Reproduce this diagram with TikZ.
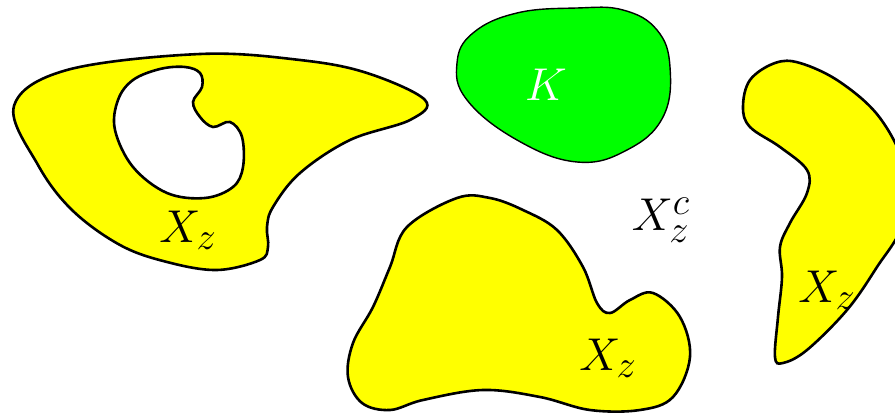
\documentclass[tikz,border=0pt]{standalone}
\usepackage{amsmath}
\usepackage{graphicx}
\usepackage{tikz}
\definecolor{setyellow}{RGB}{255,255,0}
\definecolor{setgreen}{RGB}{0,255,0}
\newcommand{\biglbl}[1]{\scalebox{1.85}{\Huge #1}}

\begin{document}
\begin{tikzpicture}[x=1pt, y=-1pt,
    region/.style={draw=black, line width=2.6pt, fill=setyellow},
    compact/.style={draw=black, line width=1.4pt, fill=setgreen},
    lbl/.style={inner sep=0pt}]
  % Frame
  \useasboundingbox (0,0) rectangle (895,414);
  \clip (0,0) rectangle (895,414);
  % Left piece with a hole
  \path[region, even odd rule]
    plot[smooth cycle, tension=0.6] coordinates {(14,106) (67,70) (200,54) (300,60) (367,73) (425,100)
      (410,120) (350,140) (300,173) (273,207) (267,227) (268,247) (260,260) (217,270) (167,262)
      (120,245) (72,210) (38,165)}
    plot[smooth cycle, tension=0.6] coordinates {(185,67) (200,73) (202,87) (193,102) (200,117) (213,127)
      (230,122) (242,137) (243,167) (233,187) (205,198) (167,193) (133,167) (115,130) (118,100) (133,80) (160,69)};
  % Bottom piece
  \path[region]
    plot[smooth cycle, tension=0.6] coordinates {(457,198) (407,227) (390,267) (373,307) (353,343) (348,377)
      (362,403) (390,410) (423,400) (483,390) (540,397) (590,410) (640,410) (673,397) (690,357) (680,317)
      (653,293) (630,300) (610,313) (597,303) (583,267) (557,230) (523,210) (490,198)};
  % Right piece
  \path[region]
    plot[smooth cycle, tension=0.6] coordinates {(775,63) (750,80) (743,107) (750,127) (780,147) (807,170)
      (807,193) (790,223) (780,247) (782,277) (778,317) (775,357) (783,363) (807,350) (847,310) (877,267)
      (902,225) (905,170) (880,118) (840,82) (800,63)};
  % Compact set
  \path[compact]
    plot[smooth cycle, tension=0.7] coordinates {(577,8) (517,13) (473,33) (457,63) (467,100) (517,140)
      (577,162) (627,150) (663,117) (670,67) (657,30) (623,10)};
  % Labels
  \node[lbl, text=white] (k) at (546,85) {\biglbl{$K$}};
  \node[lbl] (xz1) at (188,230) {\biglbl{$X_z$}};
  \node[lbl] (xz2) at (608,358) {\biglbl{$X_z$}};
  \node[lbl] (xz3) at (827,290) {\biglbl{$X_z$}};
  \node[lbl] (xzc) at (661,220) {\biglbl{$X_z^c$}};
\end{tikzpicture}
\end{document}
